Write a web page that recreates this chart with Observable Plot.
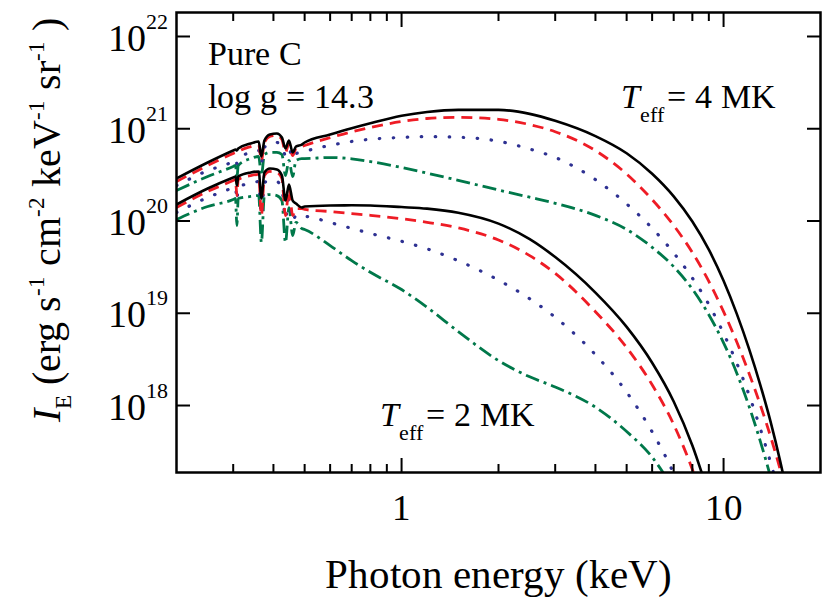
<!DOCTYPE html>
<html><head><meta charset="utf-8">
<script src="https://cdn.jsdelivr.net/npm/d3@7"></script>
<script src="https://cdn.jsdelivr.net/npm/@observablehq/plot@0.6"></script>
<style>
@font-face { font-family: "ChartSerif"; src: local("Liberation Serif"), local("LiberationSerif"), local("LiberationSerif-Regular"); font-style: normal; }
@font-face { font-family: "ChartSerif"; src: local("Liberation Serif Italic"), local("LiberationSerif-Italic"); font-style: italic; }
html,body{margin:0;padding:0;background:#fff;}
svg{display:block}
</style>
</head><body><div id="chart"></div>
<script>
// Photon energy grid (keV)
const energyKeV = [0.2, 0.25, 0.3, 0.305, 0.308, 0.311, 0.34, 0.36, 0.367, 0.375, 0.39, 0.41, 0.425, 0.436, 0.447, 0.459, 0.47, 0.49,
  0.5, 0.6, 0.7, 0.8, 1, 1.2, 1.5, 2, 2.5, 3, 4, 5, 6, 7, 8, 9, 10, 11, 12, 13, 14, 15, 16, 17];

// log10 of specific intensity I_E (erg s^-1 cm^-2 keV^-1 sr^-1)
// Teff = 4 MK
const logI_4MK_solid = [20.461, 20.634, 20.764, 20.775, 20.765, 20.786, 20.840, 20.862, 20.699, 20.873, 20.938, 20.949, 20.905, 20.786, 20.873, 20.743, 20.807, 20.829,
  20.851, 20.937, 21.005, 21.059, 21.140, 21.182, 21.205, 21.205, 21.161, 21.086, 20.920, 20.734, 20.512, 20.267, 19.994, 19.689, 19.352, 18.991, 18.614, 18.225, 17.823, 17.392, 16.933, 16.444];
const logI_4MK_dashed = [20.428, 20.602, 20.732, 20.743, 20.743, 20.753, 20.807, 20.829, 20.656, 20.851, 20.916, 20.927, 20.884, 20.743, 20.840, 20.710, 20.786, 20.807,
  20.818, 20.904, 20.967, 21.014, 21.078, 21.111, 21.124, 21.102, 21.045, 20.968, 20.763, 20.509, 20.232, 19.952, 19.659, 19.345, 19.017, 18.685, 18.348, 18.008, 17.662, 17.304, 16.933];
const logI_4MK_dotted = [20.385, 20.547, 20.656, 20.677, 20.623, 20.677, 20.743, 20.764, 20.634, 20.797, 20.840, 20.851, 20.818, 20.710, 20.786, 20.677, 20.732, 20.743,
  20.753, 20.820, 20.862, 20.886, 20.906, 20.915, 20.908, 20.865, 20.780, 20.689, 20.449, 20.185, 19.922, 19.654, 19.381, 19.095, 18.782, 18.457, 18.114, 17.750, 17.381, 17.003];
const logI_4MK_dashdot = [20.331, 20.482, 20.591, 20.602, 20.461, 20.602, 20.677, 20.699, 20.493, 20.721, 20.743, 20.743, 20.721, 20.493, 20.656, 20.482, 20.656, 20.677,
  20.677, 20.688, 20.674, 20.644, 20.580, 20.519, 20.441, 20.336, 20.258, 20.192, 20.061, 19.909, 19.715, 19.505, 19.262, 18.984, 18.680, 18.348, 17.991, 17.615, 17.224, 16.814];
// Teff = 2 MK
const logI_2MK_solid = [20.179, 20.352, 20.472, 20.482, 20.385, 20.482, 20.526, 20.537, 20.244, 20.526, 20.569, 20.558, 20.493, 20.222, 20.396, 20.222, 20.190, 20.146,
  20.157, 20.168, 20.170, 20.168, 20.151, 20.134, 20.090, 19.972, 19.803, 19.609, 19.224, 18.852, 18.464, 18.044, 17.567, 17.031];
const logI_2MK_dashed = [20.146, 20.320, 20.439, 20.450, 20.276, 20.450, 20.493, 20.504, 20.059, 20.493, 20.537, 20.526, 20.461, 20.059, 20.352, 20.059, 20.135, 20.135,
  20.125, 20.103, 20.081, 20.062, 20.025, 19.986, 19.925, 19.794, 19.625, 19.432, 19.017, 18.628, 18.225, 17.794, 17.307, 16.771];
const logI_2MK_dotted = [20.092, 20.255, 20.363, 20.374, 20.222, 20.374, 20.406, 20.428, 20.059, 20.417, 20.439, 20.428, 20.352, 20.027, 20.244, 20.005, 20.059, 20.038,
  20.049, 19.983, 19.920, 19.865, 19.780, 19.698, 19.569, 19.359, 19.157, 18.957, 18.551, 18.145, 17.715, 17.261, 16.734];
const logI_2MK_dashdot = [20.016, 20.157, 20.233, 20.244, 19.951, 20.244, 20.266, 20.276, 19.767, 20.276, 20.287, 20.276, 20.222, 19.767, 20.146, 19.843, 19.984, 19.919,
  19.908, 19.733, 19.570, 19.444, 19.257, 19.065, 18.801, 18.487, 18.311, 18.201, 17.982, 17.718, 17.441, 17.091];

// Ticks
const xMajorTicks = [1, 10];
const xMinorTicks = [0.3, 0.4, 0.5, 0.6, 0.7, 0.8, 0.9, 2, 3, 4, 5, 6, 7, 8, 9];
const yTicks = [1e18, 1e19, 1e20, 1e21, 1e22];

// Line styles
const styles = {
  solid:   {stroke: "#000000", strokeWidth: 2.6, strokeDasharray: null, strokeLinecap: "butt"},
  dashed:  {stroke: "#ee1c25", strokeWidth: 2.8, strokeDasharray: "11,7", strokeLinecap: "butt"},
  dotted:  {stroke: "#2e3192", strokeWidth: 3.2, strokeDasharray: "0.5,13.5", strokeLinecap: "round"},
  dashdot: {stroke: "#00784a", strokeWidth: 2.8, strokeDasharray: "14,5,3,5", strokeLinecap: "butt"}
};
const series = [
  {vals: logI_4MK_dashdot, style: "dashdot"}, {vals: logI_2MK_dashdot, style: "dashdot"},
  {vals: logI_4MK_dotted, style: "dotted"},   {vals: logI_2MK_dotted, style: "dotted"},
  {vals: logI_4MK_dashed, style: "dashed"},   {vals: logI_2MK_dashed, style: "dashed"},
  {vals: logI_4MK_solid, style: "solid"},     {vals: logI_2MK_solid, style: "solid"}
];
const rows = vals => vals.map((v, i) => ({E: energyKeV[i], I: Math.pow(10, v)}));

const FONT = "ChartSerif, Liberation Serif, serif";
const noLabel = () => "";

const fig = Plot.plot({
  width: 831, height: 599,
  marginLeft: 176, marginRight: 11, marginTop: 12, marginBottom: 127,
  style: {fontFamily: FONT},
  x: {type: "log", domain: [0.2, 20]},
  y: {type: "log", domain: [Math.pow(10, 17.274), Math.pow(10, 22.26)]},
  marks: [
    ...series.map(s => Plot.line(rows(s.vals), {x: "E", y: "I", curve: "monotone-x", clip: true, ...styles[s.style]})),
    Plot.axisX(xMajorTicks, {anchor: "bottom", tickSize: -14, tickFormat: noLabel, label: null, strokeWidth: 2}),
    Plot.axisX(xMinorTicks, {anchor: "bottom", tickSize: -8, tickFormat: noLabel, label: null, strokeWidth: 2}),
    Plot.axisX(xMajorTicks, {anchor: "top", tickSize: -14, tickFormat: noLabel, label: null, strokeWidth: 2}),
    Plot.axisX(xMinorTicks, {anchor: "top", tickSize: -8, tickFormat: noLabel, label: null, strokeWidth: 2}),
    Plot.axisY(yTicks, {anchor: "left", tickSize: -14, tickFormat: noLabel, label: null, strokeWidth: 2}),
    Plot.axisY(yTicks, {anchor: "right", tickSize: -14, tickFormat: noLabel, label: null, strokeWidth: 2}),
    Plot.axisX(xMajorTicks, {anchor: "bottom", tickSize: 0, tickPadding: 21, fontSize: 37, fontFamily: FONT, tickFormat: d => String(d), label: null}),
    Plot.text(yTicks, {y: d => d, frameAnchor: "left", text: () => "10", textAnchor: "end", dx: -31, dy: 2, fontSize: 38, fontFamily: FONT}),
    Plot.text(yTicks, {y: d => d, frameAnchor: "left", text: d => String(Math.round(Math.log10(d))), textAnchor: "start", dx: -31, dy: -15, fontSize: 22, fontFamily: FONT}),
    Plot.text(["Photon energy (keV)"], {frameAnchor: "bottom", lineAnchor: "bottom", dy: 115, fontSize: 41, fontFamily: FONT}),
    Plot.text([{E: 0.25, I: 4.85e21, t: "Pure C"}, {E: 0.25, I: 1.66e21, t: "log g = 14.3"}],
      {x: "E", y: "I", text: "t", textAnchor: "start", lineAnchor: "bottom", fontSize: 34, fontFamily: FONT}),
    Plot.frame({stroke: "black", strokeWidth: 2.5})
  ]
});
fig.setAttribute("font-family", FONT);
document.getElementById("chart").appendChild(fig);

const root = d3.select(fig);
const xs = fig.scale("x"), ys = fig.scale("y");
function teffLabel(E, I, value) {
  const t = root.append("text").attr("x", xs.apply(E)).attr("y", ys.apply(I))
    .attr("text-anchor", "start").attr("font-family", FONT).attr("font-size", 34).attr("fill", "black");
  t.append("tspan").attr("font-style", "italic").text("T");
  t.append("tspan").attr("font-size", 22).attr("dy", 14).text("eff");
  t.append("tspan").attr("dy", -14).attr("dx", 3).text("= " + value + " MK");
}
teffLabel(4.83, 1.66e21, "4");
teffLabel(0.859, 5.97e17, "2");

// Y axis title
const yl = root.append("text").attr("transform", "translate(60,220) rotate(-90)")
  .attr("text-anchor", "middle").attr("font-family", FONT).attr("font-size", 40).attr("fill", "black");
const parts = [
  ["I", 0, "italic"], ["E", 11, "sub"], [" (erg s", -11], ["-1", -16, "sup"], [" cm", 16],
  ["-2", -16, "sup"], [" keV", 16], ["-1", -16, "sup"], [" sr", 16], ["-1", -16, "sup"], [" )", 16]
];
for (const [txt, dy, kind] of parts) {
  const ts = yl.append("tspan").attr("dy", dy).text(txt);
  if (kind === "italic") ts.attr("font-style", "italic");
  if (kind === "sub" || kind === "sup") ts.attr("font-size", 23);
}
root.selectAll("text").style("font-family", FONT);
</script></body></html>
